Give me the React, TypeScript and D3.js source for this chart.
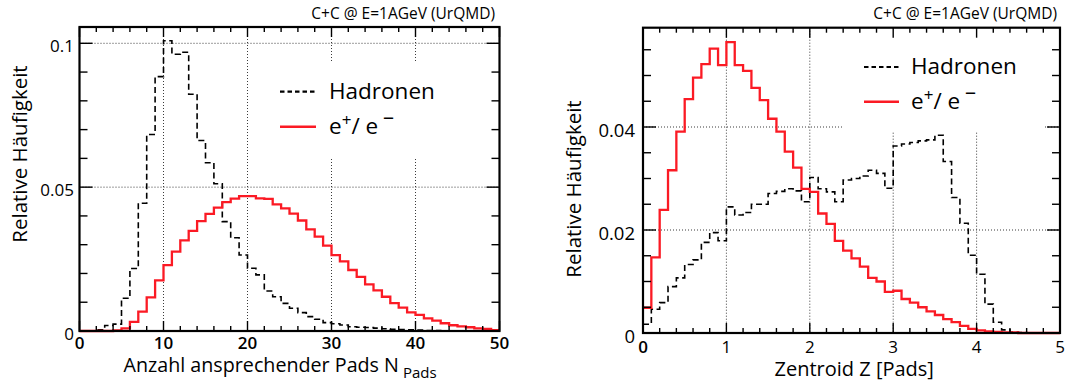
import React from "react";
import * as d3 from "d3";

// ---- Left panel: number of responding pads (bin width 1, range 0..50)
const padEdges = d3.range(0, 51);
const padHadrons = [
  0, 0, 0.0004, 0.0019, 0.0024, 0.0114, 0.0217, 0.0444, 0.0683, 0.0884,
  0.1009, 0.0962, 0.0969, 0.0823, 0.0662, 0.0585, 0.0512, 0.038, 0.0324, 0.0264,
  0.0218, 0.0195, 0.0139, 0.0119, 0.0096, 0.0079, 0.0064, 0.005, 0.0041, 0.0029,
  0.0025, 0.0021, 0.0015, 0.0013, 0.0012, 0.001, 0.0008, 0.0006, 0.0005, 0.0004,
  0.0003, 0.0002, 0.0002, 0.0001, 0.0001, 0.0001, 0, 0, 0, 0,
];
const padLeptons = [
  0, 0, 0, 0, 0.0002, 0.0009, 0.0032, 0.0067, 0.0117, 0.0176,
  0.0229, 0.0276, 0.0315, 0.0348, 0.0382, 0.0407, 0.0429, 0.0448, 0.046, 0.0469,
  0.0469, 0.0461, 0.0459, 0.044, 0.0426, 0.0408, 0.0384, 0.0353, 0.0328, 0.0297,
  0.0264, 0.0242, 0.0212, 0.0188, 0.0162, 0.0141, 0.0119, 0.0097, 0.0081, 0.0065,
  0.0056, 0.0044, 0.0036, 0.0027, 0.002, 0.0016, 0.0013, 0.0009, 0.0007, 0.0003,
];

// ---- Right panel: centroid z in pad units (bin width 0.1, range 0..5)
const zEdges = d3.range(0, 51).map((i) => i / 10);
const zHadrons = [
  0.0017, 0.0046, 0.0059, 0.009, 0.0107, 0.0133, 0.0142, 0.0176, 0.0195, 0.0179,
  0.0245, 0.0229, 0.0234, 0.025, 0.025, 0.0271, 0.0275, 0.028, 0.0276, 0.0255,
  0.0302, 0.028, 0.0274, 0.0255, 0.0297, 0.03, 0.0305, 0.0316, 0.031, 0.0281,
  0.0363, 0.0367, 0.037, 0.0373, 0.0375, 0.0384, 0.0333, 0.0263, 0.0213, 0.0151,
  0.0114, 0.0056, 0.0021, 0.0006, 0.0002, 0.0001, 0, 0, 0, 0,
];
const zLeptons = [
  0.0049, 0.0147, 0.0239, 0.0316, 0.0391, 0.0454, 0.0496, 0.0522, 0.0552, 0.052,
  0.0565, 0.052, 0.0509, 0.0476, 0.0452, 0.0416, 0.0391, 0.0352, 0.0321, 0.028,
  0.0274, 0.0232, 0.0212, 0.0179, 0.016, 0.0145, 0.0129, 0.0107, 0.01, 0.008,
  0.0082, 0.0066, 0.0059, 0.005, 0.0042, 0.0035, 0.0027, 0.0021, 0.0014, 0.0008,
  0.0005, 0.0003, 0.0002, 0.0001, 0.0001, 0, 0, 0, 0, 0,
];

// ---- Axis ticks and texts
const padXMajor = [0, 10, 20, 30, 40, 50];
const padXLabels = ["0", "10", "20", "30", "40", "50"];
const padYMajor = [0, 0.05, 0.1];
const padYLabels = ["0", "0.05", "0.1"];
const zXMajor = [0, 1, 2, 3, 4, 5];
const zXLabels = ["0", "1", "2", "3", "4", "5"];
const zYMajor = [0, 0.02, 0.04];
const zYLabels = ["0", "0.02", "0.04"];

const headline = "C+C @ E=1AGeV (UrQMD)";
const yTitle = "Relative Häufigkeit";
const legendHadrons = "Hadronen";
const padXTitle = "Anzahl ansprechender Pads N";
const padXTitleSub = "Pads";
const zXTitle = "Zentroid Z [Pads]";

const FONT = "'Open Sans', 'Noto Sans', sans-serif";
const RED = "#fb1a24";
const DASH = "6 3.5";

type Scale = d3.ScaleLinear<number, number>;

function stepPath(edges: number[], values: number[], x: Scale, y: Scale) {
  const pts: [number, number][] = values.map((v, i) => [edges[i], v]);
  pts.push([edges[values.length], values[values.length - 1]]);
  return (
    d3
      .line<[number, number]>()
      .x((d) => x(d[0]))
      .y((d) => y(d[1]))
      .curve(d3.curveStepAfter)(pts) || ""
  );
}

interface PanelProps {
  x: Scale;
  y: Scale;
  top: number;
  edges: number[];
  hadrons: number[];
  leptons: number[];
  xMajor: number[];
  xMinorStep: number;
  yMajor: number[];
  yMinorStep: number;
  xGrid: number[];
  yGrid: number[];
  xLabels: string[];
  yLabels: string[];
  xLabelBold: boolean;
  xLabelBase: number;
  yLabelSize: number;
  yLabelEnd: number;
  yLabelShift: number;
  legendBox: { x: number; y: number; w: number; h: number };
  legendLine: [number, number];
  legendTextX: number;
  legendRows: [number, number];
  headlineEnd: number;
  yTitlePos: [number, number];
  xTitle: React.ReactNode;
}

function Panel(p: PanelProps) {
  const [x0, x1] = p.x.range();
  const y0 = p.y(0);
  const top = p.top;
  const yMax = p.y.invert(top);
  const xDom = p.x.domain();
  const eps = 1e-9;
  const isMajor = (arr: number[], v: number) => arr.some((m) => Math.abs(m - v) < 1e-6);
  const xMinor = d3.range(xDom[0], xDom[1] + eps, p.xMinorStep).filter((v) => !isMajor(p.xMajor, v));
  const yMinor = d3.range(0, yMax, p.yMinorStep).filter((v) => !isMajor(p.yMajor, v));
  const xMajLen = 10, xMinLen = 5, yMajLen = 13, yMinLen = 8;

  return (
    <g fontFamily={FONT}>
      {/* dotted grid */}
      <g stroke="#3a3a3a" strokeWidth={1} strokeDasharray="1 2">
        {p.xGrid.map((v) => (
          <line key={"gx" + v} x1={p.x(v)} x2={p.x(v)} y1={top} y2={y0} />
        ))}
        {p.yGrid.map((v) => (
          <line key={"gy" + v} x1={x0} x2={x1} y1={p.y(v)} y2={p.y(v)} />
        ))}
      </g>

      {/* histograms */}
      <path d={stepPath(p.edges, p.hadrons, p.x, p.y)} fill="none" stroke="#000" strokeWidth={1.6} strokeDasharray={DASH} />
      <path d={stepPath(p.edges, p.leptons, p.x, p.y)} fill="none" stroke={RED} strokeWidth={2.3} />

      {/* legend */}
      <rect x={p.legendBox.x} y={p.legendBox.y} width={p.legendBox.w} height={p.legendBox.h} fill="#fff" />
      <line x1={p.legendLine[0]} x2={p.legendLine[1]} y1={p.legendRows[0]} y2={p.legendRows[0]} stroke="#000" strokeWidth={2.2} strokeDasharray="4.5 3" />
      <line x1={p.legendLine[0]} x2={p.legendLine[1]} y1={p.legendRows[1]} y2={p.legendRows[1]} stroke={RED} strokeWidth={2.6} />
      <text x={p.legendTextX} y={p.legendRows[0] + 6.8} fontSize={22.5}>
        {legendHadrons}
      </text>
      <text x={p.legendTextX} y={p.legendRows[1] + 6.8} fontSize={22.5}>
        e
        <tspan dy={-8} fontSize={17}>+</tspan>
        <tspan dy={8}>/ e</tspan>
        <tspan dx={5} dy={-10} fontSize={22}>–</tspan>
      </text>

      {/* frame and ticks */}
      <g stroke="#000" strokeWidth={1.4}>
        {p.xMajor.map((v) => (
          <g key={"xM" + v}>
            <line x1={p.x(v)} x2={p.x(v)} y1={y0} y2={y0 - xMajLen} />
            <line x1={p.x(v)} x2={p.x(v)} y1={top} y2={top + xMajLen} />
          </g>
        ))}
        {xMinor.map((v) => (
          <g key={"xm" + v}>
            <line x1={p.x(v)} x2={p.x(v)} y1={y0} y2={y0 - xMinLen} />
            <line x1={p.x(v)} x2={p.x(v)} y1={top} y2={top + xMinLen} />
          </g>
        ))}
        {p.yMajor.map((v) => (
          <g key={"yM" + v}>
            <line x1={x0} x2={x0 + yMajLen} y1={p.y(v)} y2={p.y(v)} />
            <line x1={x1} x2={x1 - yMajLen} y1={p.y(v)} y2={p.y(v)} />
          </g>
        ))}
        {yMinor.map((v) => (
          <g key={"ym" + v}>
            <line x1={x0} x2={x0 + yMinLen} y1={p.y(v)} y2={p.y(v)} />
            <line x1={x1} x2={x1 - yMinLen} y1={p.y(v)} y2={p.y(v)} />
          </g>
        ))}
      </g>
      <rect x={x0} y={top} width={x1 - x0} height={y0 - top} fill="none" stroke="#000" strokeWidth={2.2} />

      {/* tick labels */}
      <g fontSize={17} textAnchor="middle" fill="#000">
        {p.xMajor.map((v, i) => (
          <text key={"xl" + v} x={p.x(v)} y={p.xLabelBase} fontWeight={p.xLabelBold || i === 0 ? 600 : 400}>
            {p.xLabels[i]}
          </text>
        ))}
      </g>
      <g fontSize={p.yLabelSize} textAnchor="end" fill="#000">
        {p.yMajor.map((v, i) => (
          <text key={"yl" + v} x={p.yLabelEnd} y={p.y(v) + p.yLabelShift}>
            {p.yLabels[i]}
          </text>
        ))}
      </g>

      {/* headline and axis titles */}
      <text x={p.headlineEnd} y={18.5} fontSize={15.5} textAnchor="end">
        {headline}
      </text>
      <text
        transform={`translate(${p.yTitlePos[0]},${p.yTitlePos[1]}) rotate(-90)`}
        fontSize={20.5}
        textAnchor="middle"
      >
        {yTitle}
      </text>
      {p.xTitle}
    </g>
  );
}

export default function App() {
  const xL = d3.scaleLinear().domain([0, 50]).range([79.5, 499.5]);
  const yL = d3.scaleLinear().domain([0, 0.1]).range([331, 43.3]);
  const xR = d3.scaleLinear().domain([0, 5]).range([643, 1060]);
  const yR = d3.scaleLinear().domain([0, 0.02]).range([333, 230]);

  return (
    <svg
      width={1066}
      height={385}
      viewBox="0 0 1066 385"
      style={{ position: "absolute", left: 0, top: 0, background: "#fff" }}
    >
      <rect width={1066} height={385} fill="#fff" />
      <Panel
        x={xL}
        y={yL}
        top={27}
        edges={padEdges}
        hadrons={padHadrons}
        leptons={padLeptons}
        xMajor={padXMajor}
        xMinorStep={2}
        yMajor={padYMajor}
        yMinorStep={0.01}
        xGrid={[10, 20, 30, 40]}
        yGrid={[0.05, 0.1]}
        xLabels={padXLabels}
        yLabels={padYLabels}
        xLabelBold={true}
        xLabelBase={349}
        yLabelSize={17}
        yLabelEnd={74}
        yLabelShift={9}
        legendBox={{ x: 259, y: 62, w: 196, h: 95 }}
        legendLine={[280, 316]}
        legendTextX={329}
        legendRows={[91.7, 126.7]}
        headlineEnd={495}
        yTitlePos={[27, 154]}
        xTitle={
          <text x={123.5} y={371.5} fontSize={19.7}>
            {padXTitle}
            <tspan dx={4} dy={6} fontSize={15}>
              {padXTitleSub}
            </tspan>
          </text>
        }
      />
      <Panel
        x={xR}
        y={yR}
        top={27.7}
        edges={zEdges}
        hadrons={zHadrons}
        leptons={zLeptons}
        xMajor={zXMajor}
        xMinorStep={0.2}
        yMajor={zYMajor}
        yMinorStep={0.005}
        xGrid={[1, 2, 3, 4]}
        yGrid={[0.02, 0.04]}
        xLabels={zXLabels}
        yLabels={zYLabels}
        xLabelBold={false}
        xLabelBase={352.5}
        yLabelSize={18.5}
        yLabelEnd={635}
        yLabelShift={9.7}
        legendBox={{ x: 843, y: 30, w: 200, h: 102 }}
        legendLine={[864, 899]}
        legendTextX={911}
        legendRows={[67, 101.7]}
        headlineEnd={1057}
        yTitlePos={[581, 189]}
        xTitle={
          <text x={774.5} y={376} fontSize={20}>
            {zXTitle}
          </text>
        }
      />
    </svg>
  );
}
